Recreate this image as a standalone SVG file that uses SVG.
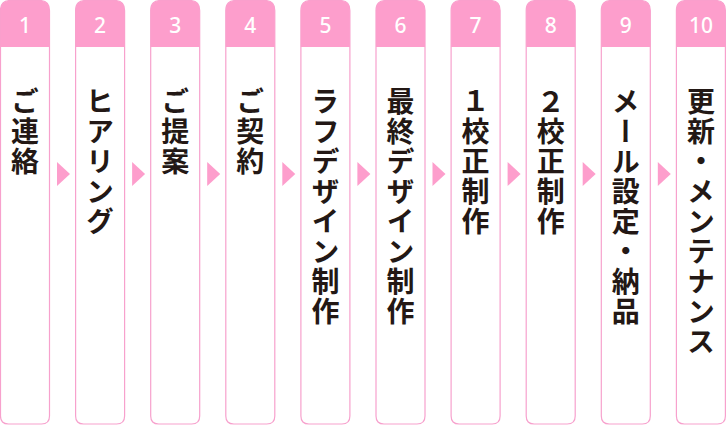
<svg xmlns="http://www.w3.org/2000/svg" width="726" height="425" viewBox="0 0 726 425">
<defs>
<style>
.box{fill:#ffffff;stroke:#f7a1cd;stroke-width:1.2}
.hd{fill:#fd9ecc}
.num{fill:#ffffff;font-family:"Noto Sans","Liberation Sans",sans-serif;font-size:21px;font-weight:500;text-anchor:middle}
.lbl{fill:#231815;font-family:"Noto Sans CJK JP",sans-serif;font-size:28px;font-weight:bold;writing-mode:vertical-rl;text-anchor:start;letter-spacing:2px}
.arr{fill:#fd9ecc}
</style>
<path id="card" d="M0.5,10.5 Q0.5,0.5 10.5,0.5 L39.5,0.5 Q49.5,0.5 49.5,10.5 L49.5,416 Q49.5,424 41.5,424 L8.5,424 Q0.5,424 0.5,416 Z"/>
<path id="head" d="M0.5,10.5 Q0.5,0.5 10.5,0.5 L39.5,0.5 Q49.5,0.5 49.5,10.5 L49.5,47 L0.5,47 Z"/>
<polygon id="tri" points="0,0 0,24 13,12"/>
</defs>
<g id="connectors">
<use href="#tri" class="arr" x="57" y="162"/>
<use href="#tri" class="arr" x="132.1" y="162"/>
<use href="#tri" class="arr" x="207.2" y="162"/>
<use href="#tri" class="arr" x="282.3" y="162"/>
<use href="#tri" class="arr" x="357.4" y="162"/>
<use href="#tri" class="arr" x="432.5" y="162"/>
<use href="#tri" class="arr" x="507.6" y="162"/>
<use href="#tri" class="arr" x="582.7" y="162"/>
<use href="#tri" class="arr" x="657.8" y="162"/>
</g>
<g id="step1" transform="translate(0,0)"><use href="#card" class="box"/><use href="#head" class="hd"/><text class="num" x="25" y="33">1</text><text class="lbl" x="25" y="87">ご連絡</text></g>
<g id="step2" transform="translate(75.1,0)"><use href="#card" class="box"/><use href="#head" class="hd"/><text class="num" x="25" y="33">2</text><text class="lbl" x="25" y="87">ヒアリング</text></g>
<g id="step3" transform="translate(150.2,0)"><use href="#card" class="box"/><use href="#head" class="hd"/><text class="num" x="25" y="33">3</text><text class="lbl" x="25" y="87">ご提案</text></g>
<g id="step4" transform="translate(225.3,0)"><use href="#card" class="box"/><use href="#head" class="hd"/><text class="num" x="25" y="33">4</text><text class="lbl" x="25" y="87">ご契約</text></g>
<g id="step5" transform="translate(300.4,0)"><use href="#card" class="box"/><use href="#head" class="hd"/><text class="num" x="25" y="33">5</text><text class="lbl" x="25" y="87">ラフデザイン制作</text></g>
<g id="step6" transform="translate(375.5,0)"><use href="#card" class="box"/><use href="#head" class="hd"/><text class="num" x="25" y="33">6</text><text class="lbl" x="25" y="87">最終デザイン制作</text></g>
<g id="step7" transform="translate(450.6,0)"><use href="#card" class="box"/><use href="#head" class="hd"/><text class="num" x="25" y="33">7</text><text class="lbl" x="25" y="87">１校正制作</text></g>
<g id="step8" transform="translate(525.7,0)"><use href="#card" class="box"/><use href="#head" class="hd"/><text class="num" x="25" y="33">8</text><text class="lbl" x="25" y="87">２校正制作</text></g>
<g id="step9" transform="translate(600.8,0)"><use href="#card" class="box"/><use href="#head" class="hd"/><text class="num" x="25" y="33">9</text><text class="lbl" x="25" y="87">メール設定・納品</text></g>
<g id="step10" transform="translate(675.9,0)"><use href="#card" class="box"/><use href="#head" class="hd"/><text class="num" x="25" y="33">10</text><text class="lbl" x="25" y="87">更新・メンテナンス</text></g>
</svg>
